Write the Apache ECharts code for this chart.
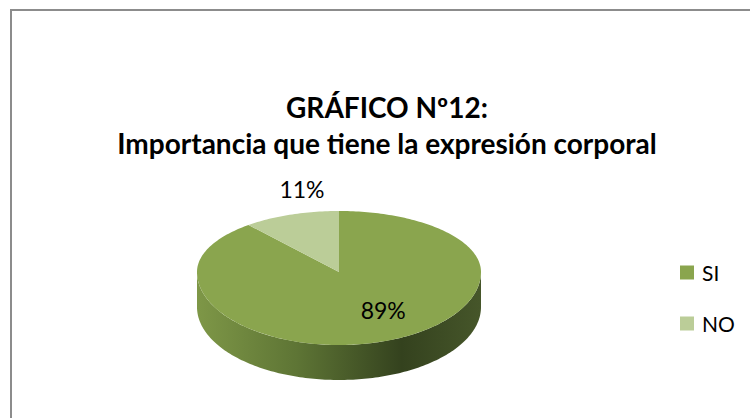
<!DOCTYPE html>
<html><head><meta charset="utf-8">
<script src="https://cdn.jsdelivr.net/npm/echarts@6/dist/echarts.min.js"></script>
<style>html,body{margin:0;padding:0;background:#fff}#c{width:750px;height:418px}</style>
</head><body><div id="c"></div>
<script>
const categories = ['SI', 'NO'];
const values = [89, 11];
const pctLabels = ['89%', '11%'];
const titleLines = ['GRÁFICO Nº12:', 'Importancia que tiene la expresión corporal'];

const topColors = ['#8aa54e', '#bbcd98'];
const FONT = 'Lato, "Open Sans", sans-serif';
const G = { cx: 339, cy: 272, rx: 142, ryTop: 61, ryBot: 73, depth: 35 };
const total = values.reduce((a, b) => a + b, 0);

function pt(theta, dy) {
  const s = Math.sin(theta);
  const ry = s < 0 ? G.ryTop : G.ryBot;
  return [G.cx + G.rx * Math.cos(theta), G.cy + ry * s + (dy || 0)];
}
function arc(a, b, dy) {
  const n = Math.max(2, Math.ceil(Math.abs(b - a) / 0.02));
  const out = [];
  for (let i = 0; i <= n; i++) out.push(pt(a + (b - a) * i / n, dy));
  return out;
}
const sideGrad = {
  type: 'linear', global: true,
  x: G.cx - G.rx, y: 0, x2: G.cx + G.rx, y2: 0,
  colorStops: [
    { offset: 0, color: '#7e9747' },
    { offset: 0.35, color: '#5e7535' },
    { offset: 0.72, color: '#34421e' },
    { offset: 1, color: '#46562a' }
  ]
};

let cum = 0;
const series = categories.map((name, i) => {
  const start = cum / total;
  cum += values[i];
  const end = cum / total;
  return {
    type: 'custom',
    name: name,
    coordinateSystem: 'none',
    silent: true,
    animation: false,
    itemStyle: { color: topColors[i] },
    data: [[start, end]],
    renderItem: function (params, api) {
      const f0 = api.value(0), f1 = api.value(1);
      const a = -Math.PI / 2 + 2 * Math.PI * f0;
      const b = -Math.PI / 2 + 2 * Math.PI * f1;
      const children = [];
      for (let k = -1; k <= 1; k++) {
        const lo = Math.max(a, 2 * Math.PI * k), hi = Math.min(b, Math.PI + 2 * Math.PI * k);
        if (lo < hi) {
          const pts = arc(lo, hi, 0).concat(arc(hi, lo, G.depth));
          children.push({ type: 'polygon', shape: { points: pts }, style: { fill: sideGrad } });
        }
      }
      const topPts = [[G.cx, G.cy]].concat(arc(a, b, 0));
      children.push({ type: 'polygon', shape: { points: topPts }, style: { fill: topColors[i] } });
      const mid = (a + b) / 2;
      const frac = f1 - f0;
      let lx, ly;
      if (frac > 0.5) {
        lx = G.cx + G.rx * 0.92 * Math.cos(mid);
        ly = G.cy + G.ryBot * 0.55 * Math.sin(mid);
      } else {
        lx = G.cx + G.rx * 0.77 * Math.cos(mid);
        ly = G.cy + G.ryTop * 1.44 * Math.sin(mid);
      }
      children.push({
        type: 'text', x: lx, y: ly,
        style: { text: pctLabels[i], fill: '#000', font: '23px ' + FONT, align: 'center', verticalAlign: 'middle' }
      });
      return { type: 'group', children: children };
    }
  };
});

const chart = echarts.init(document.getElementById('c'), null, { renderer: 'svg' });
chart.setOption({
  backgroundColor: '#fff',
  animation: false,
  legend: {
    orient: 'vertical',
    left: 675,
    top: 257,
    icon: 'rect',
    itemWidth: 14,
    itemHeight: 14,
    itemGap: 30,
    selectedMode: false,
    textStyle: { fontFamily: FONT, fontSize: 21, lineHeight: 18, color: '#000', padding: [0, 0, 0, 3] },
    data: categories
  },
  graphic: [
    {
      type: 'rect', silent: true,
      shape: { x: 11, y: 10, width: 760, height: 420 },
      style: { fill: 'none', stroke: '#8c8c8c', lineWidth: 2 }
    },
    {
      type: 'text', silent: true, x: 387, y: 107,
      style: { text: titleLines[0], fill: '#000', font: 'bold 28px ' + FONT, align: 'center', verticalAlign: 'middle' }
    },
    {
      type: 'text', silent: true, x: 387, y: 143,
      style: { text: titleLines[1], fill: '#000', font: 'bold 28px ' + FONT, align: 'center', verticalAlign: 'middle' }
    }
  ],
  series: series
});
</script>
</body></html>
